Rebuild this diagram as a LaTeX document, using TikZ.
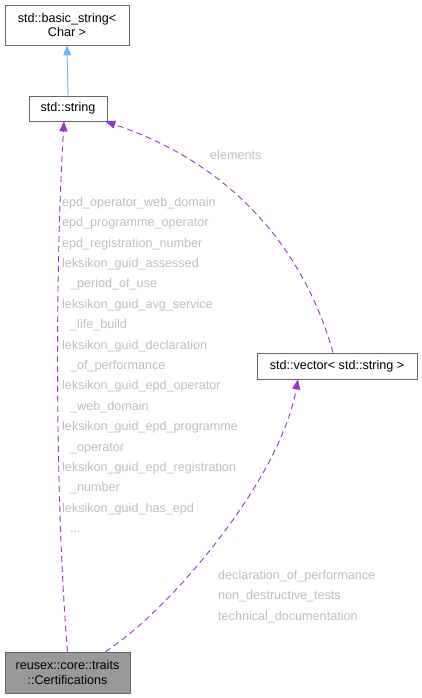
\documentclass[tikz,border=0pt]{standalone}
\usepackage{fontspec}
\setmainfont{Liberation Sans}
\usetikzlibrary{arrows.meta,positioning}

\definecolor{edgepurple}{HTML}{9A32CD}
\definecolor{edgeblue}{HTML}{63B8FF}
\definecolor{labelgrey}{HTML}{BEBEBE}
\definecolor{boxgrey}{HTML}{999999}

\begin{document}
\begin{tikzpicture}[x=1pt,y=-1pt]
  \tikzstyle{cls} = [rectangle, draw=black!60, line width=0.8pt, fill=white, inner sep=0pt, align=center, font=\fontsize{12.6}{14.5}\selectfont]
  \tikzstyle{member} = [inner sep=0pt, anchor=north west, align=left, text=labelgrey, font=\fontsize{12.6}{20.4}\selectfont]
  \tikzstyle{uses} = [draw=edgepurple, line width=0.9pt, dash pattern=on 6pt off 4pt, -{Triangle[length=10pt,width=8pt]}]
  \tikzstyle{inherits} = [draw=edgeblue, line width=0.9pt, -{Triangle[length=10pt,width=8pt]}]

  \useasboundingbox (0,0) rectangle (422,698);

  \node [cls, minimum width=124pt, minimum height=40pt] (basic) at (67,25) {std::basic\_string\textless\\Char \textgreater};
  \node [cls, minimum width=78pt, minimum height=25pt] (string) at (68,108.5) {std::string};
  \node [cls, minimum width=160pt, minimum height=26pt] (vector) at (337,366) {std::vector\textless{} std::string \textgreater};
  \node [cls, fill=boxgrey, minimum width=125pt, minimum height=41pt] (cert) at (67.5,672.5) {reusex::core::traits\\::Certifications};

  \draw [inherits] (string.north) -- (basic.south);
  \draw [uses] (cert.north) .. controls (55,500) and (55,270) .. ([xshift=-4pt]string.south);
  \draw [uses] ([xshift=-4pt]vector.north) .. controls (310,270) and (250,170) .. ([xshift=-2pt]string.south east);
  \draw [uses] ([xshift=38pt]cert.north) .. controls (170,610) and (280,480) .. ([xshift=-39pt]vector.south);

  \node [member] (elements) at (210,150) {elements};
  \node [member] (stringfields) at (62,197) {epd\_operator\_web\_domain\\
    epd\_programme\_operator\\
    epd\_registration\_number\\
    leksikon\_guid\_assessed\\
    \hspace*{8pt}\_period\_of\_use\\
    leksikon\_guid\_avg\_service\\
    \hspace*{8pt}\_life\_build\\
    leksikon\_guid\_declaration\\
    \hspace*{8pt}\_of\_performance\\
    leksikon\_guid\_epd\_operator\\
    \hspace*{8pt}\_web\_domain\\
    leksikon\_guid\_epd\_programme\\
    \hspace*{8pt}\_operator\\
    leksikon\_guid\_epd\_registration\\
    \hspace*{8pt}\_number\\
    leksikon\_guid\_has\_epd\\
    \hspace*{8pt}...};
  \node [member] (vectorfields) at (218,570) {declaration\_of\_performance\\
    non\_destructive\_tests\\
    technical\_documentation};
\end{tikzpicture}
\end{document}
